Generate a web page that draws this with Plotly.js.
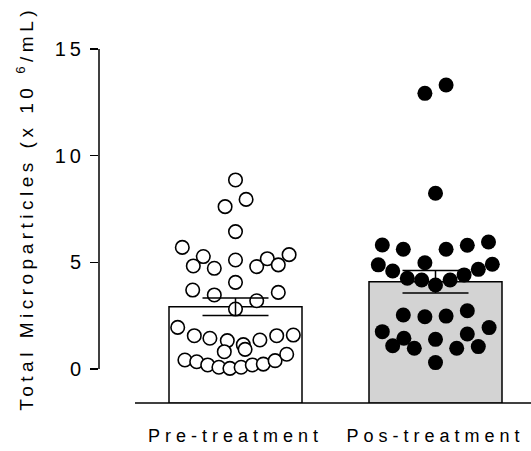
<!DOCTYPE html>
<html>
<head>
<meta charset="utf-8">
<script src="https://cdn.plot.ly/plotly-3.0.1.min.js"></script>
<style>
html,body{margin:0;padding:0;background:#fff;}
#chart{width:531px;height:451px;}
.xtick text{letter-spacing:5px;}
.ytick text{letter-spacing:4px;}
.annotation-text{letter-spacing:4.5px;}
</style>
</head>
<body>
<div id="chart"></div>
<script>
// ---- data ----
var categories = ["Pre-treatment", "Pos-treatment"];
var meanValues = [2.92, 4.09];
var semValues = [0.41, 0.53];
var yTickVals = [0, 5, 10, 15];
var yTickText = ["0", "5", "10", "15"];

var preValues = [8.86,7.95,7.61,6.44,5.70,5.27,4.83,4.72,5.11,4.80,5.17,4.88,5.36,4.06,3.70,3.47,3.20,3.59,2.81,
  1.95,1.56,1.44,1.33,1.14,1.36,1.56,1.59,0.81,0.92,
  0.42,0.34,0.19,0.08,0.03,0.08,0.19,0.23,0.39,0.69];
var preJitter = [0,0.053,-0.052,0,-0.266,-0.161,-0.211,-0.106,0,0.106,0.159,0.214,0.268,0,-0.214,-0.106,0.106,0.214,0,
  -0.289,-0.206,-0.128,-0.041,0.039,0.122,0.206,0.289,-0.056,0.048,
  -0.253,-0.194,-0.139,-0.083,-0.028,0.028,0.084,0.139,0.198,0.256];

var postValues = [13.31,12.92,8.24,5.81,5.61,5.61,5.80,5.95,4.88,4.59,4.98,4.67,4.91,4.25,4.17,3.94,4.17,4.41,
  2.53,2.45,2.48,2.73,1.75,1.44,1.09,0.97,1.39,1.64,1.94,0.97,1.05,0.30];
var postJitter = [0.053,-0.053,0,-0.266,-0.161,0.053,0.159,0.265,-0.286,-0.214,-0.053,0.214,0.284,-0.141,-0.069,0,0.073,0.143,
  -0.161,-0.053,0.053,0.159,-0.266,-0.158,-0.214,-0.106,0,0.159,0.268,0.106,0.214,0];

// ---- build traces ----
var catIdx = [0, 1];
function shift(base, arr){ return arr.map(function(d){ return base + d; }); }

// bars extend down to the baseline line below zero
var barsBase = -1.6;
var bars = {
  type: 'bar', x: catIdx,
  base: [barsBase, barsBase],
  y: meanValues.map(function(m){ return m - barsBase; }),
  width: 0.665,
  marker: {color: ['#ffffff', '#d3d3d3'], line: {color: '#000', width: 1.5}},
  hoverinfo: 'skip', showlegend: false
};

var prePts = {
  type: 'scatter', mode: 'markers', x: shift(0, preJitter), y: preValues,
  marker: {symbol: 'circle', size: 13.5, color: '#ffffff', line: {color: '#000', width: 1.6}},
  showlegend: false, cliponaxis: false
};
var postPts = {
  type: 'scatter', mode: 'markers', x: shift(1, postJitter), y: postValues,
  marker: {symbol: 'circle', size: 15, color: '#000000', line: {color: '#000', width: 0}},
  showlegend: false, cliponaxis: false
};
var errs = {
  type: 'scatter', mode: 'markers', x: catIdx, y: meanValues,
  marker: {size: 1, opacity: 0},
  error_y: {type: 'data', array: semValues, visible: true, color: '#000', thickness: 1.5, width: 33},
  showlegend: false, hoverinfo: 'skip'
};

var layout = {
  width: 531, height: 451,
  margin: {l: 99, r: 0, t: 40, b: 48},
  paper_bgcolor: '#fff', plot_bgcolor: '#fff',
  font: {family: 'Liberation Sans, Arial, sans-serif', color: '#000'},
  xaxis: {
    range: [-0.6825, 1.4775], tickvals: catIdx, ticktext: categories,
    showgrid: false, zeroline: false, showline: false, ticks: '',
    tickfont: {size: 18, family: 'Liberation Sans, Arial, sans-serif', color: '#000'},
    ticklabelstandoff: 20
  },
  yaxis: {
    range: [-1.594, 15.42], tickvals: yTickVals, ticktext: yTickText,
    showgrid: false, zeroline: false, showline: false,
    ticks: 'outside', ticklen: 8, tickwidth: 1.5, tickcolor: '#000',
    tickfont: {size: 20, family: 'Liberation Sans, Arial, sans-serif', color: '#000'},
    ticklabelstandoff: 1
  },
  shapes: [
    {type: 'line', xref: 'paper', yref: 'y', x0: 0, x1: 0, y0: 0, y1: 15, line: {color: '#000', width: 1.5}},
    {type: 'line', xref: 'x', yref: 'paper', x0: -0.5025, x1: 1.4775, y0: 0, y1: 0, line: {color: '#000', width: 1.5}}
  ],
  annotations: [{
    text: 'Total Microparticles (x 10 <sup>6</sup>/mL)',
    xref: 'paper', yref: 'paper', x: -0.172, y: 0.537,
    xanchor: 'center', yanchor: 'middle', textangle: -90, showarrow: false,
    font: {size: 19, family: 'Liberation Sans, Arial, sans-serif', color: '#000'}
  }]
};

Plotly.newPlot('chart', [bars, prePts, postPts, errs], layout, {staticPlot: true, displayModeBar: false});
</script>
</body>
</html>
